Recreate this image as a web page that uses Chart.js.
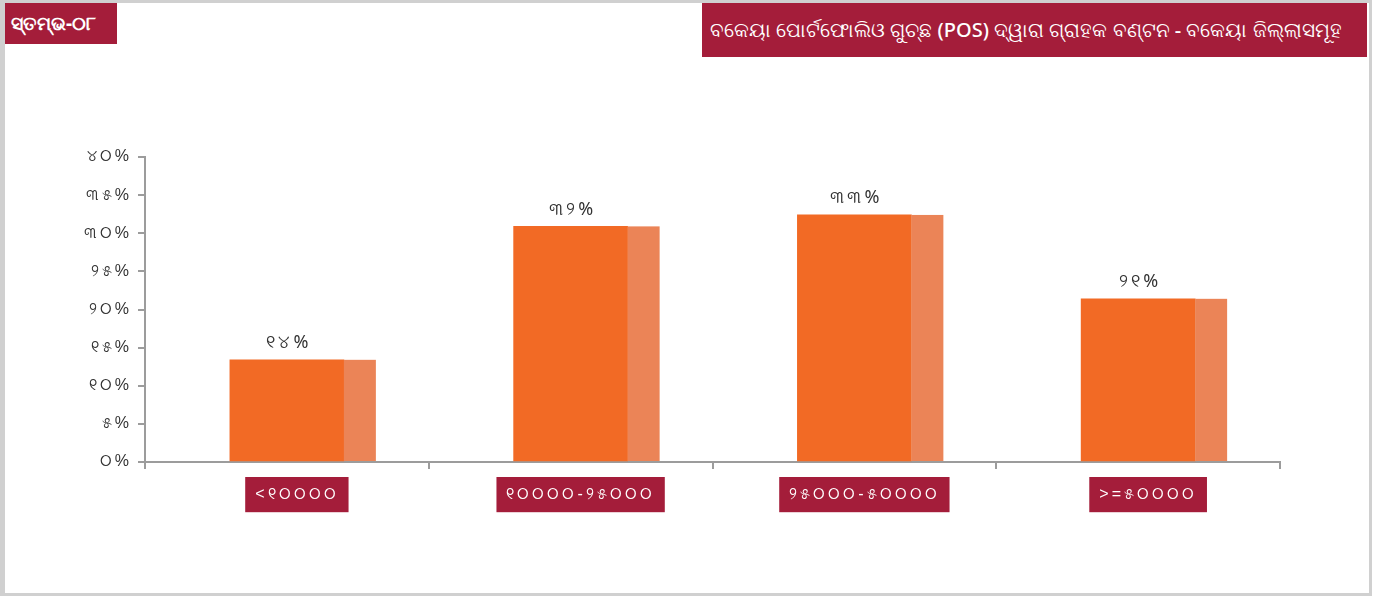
<!DOCTYPE html>
<html>
<head>
<meta charset="utf-8">
<script src="https://cdn.jsdelivr.net/npm/chart.js@4.4.1/dist/chart.umd.min.js"></script>
<style>
  html, body { margin: 0; padding: 0; background: #fff; }
  body { width: 1377px; height: 596px; position: relative; overflow: hidden; font-family: "Noto Sans", "DejaVu Sans", sans-serif; }
  #frame { position: absolute; left: 0; top: 0; width: 1364px; height: 590px; border: 3px solid #d0d0d0; border-left-width: 5px; }
  #fig { position: absolute; left: 5px; top: 3px; width: 112px; height: 41px; background: #a41d3a; color: #fff; font-size: 19px; font-weight: bold; line-height: 41px; padding-left: 6px; box-sizing: border-box; }
  #title { position: absolute; left: 702px; top: 3px; width: 665px; height: 54px; background: #a41d3a; color: #fff; font-size: 20px; font-weight: 500; line-height: 54px; padding-left: 8px; box-sizing: border-box; white-space: nowrap; }
  #chart { position: absolute; left: 0; top: 0; }
</style>
</head>
<body>
<div id="frame"></div>
<div id="fig">ସ୍ତମ୍ଭ-୦୮</div>
<div id="title">ବକେୟା ପୋର୍ଟଫୋଲିଓ ଗୁଚ୍ଛ (POS) ଦ୍ୱାରା ଗ୍ରାହକ ବଣ୍ଟନ - ବକେୟା ଜିଲ୍ଲାସମୂହ</div>
<canvas id="chart" width="1377" height="596"></canvas>
<script>
const categories = ["<୧୦୦୦୦", "୧୦୦୦୦-୨୫୦୦୦", "୨୫୦୦୦-୫୦୦୦୦", ">=୫୦୦୦୦"];
const shareValues = [13.4, 30.9, 32.4, 21.4];
const shareLabels = ["୧୪%", "୩୨%", "୩୩%", "୨୧%"];
const yTickLabels = ["୦%", "୫%", "୧୦%", "୧୫%", "୨୦%", "୨୫%", "୩୦%", "୩୫%", "୪୦%"];

const DARK = "#f26a25";
const LIGHT = "#eb8457";
const AXIS = "#9c9c9c";

// the reference text is set loosely, so widen the canvas letter spacing
const spacing = {
  id: "spacing",
  beforeLayout(chart) { chart.ctx.letterSpacing = "3px"; },
  beforeDraw(chart) { chart.ctx.letterSpacing = "3px"; },
};

// light right-hand strip + value labels on each bar
const barExtras = {
  id: "barExtras",
  afterDatasetsDraw(chart) {
    const ctx = chart.ctx;
    const meta = chart.getDatasetMeta(0);
    ctx.save();
    meta.data.forEach((bar, i) => {
      const right = bar.x + bar.width / 2;
      ctx.fillStyle = LIGHT;
      ctx.fillRect(right, bar.y, 32, bar.base - bar.y);
      ctx.fillStyle = "#333";
      ctx.font = "18px 'Noto Sans', 'DejaVu Sans', sans-serif";
      ctx.textAlign = "center";
      ctx.textBaseline = "bottom";
      ctx.fillText(shareLabels[i], bar.x + 2, bar.y - 8);
    });
    ctx.restore();
  },
};

new Chart(document.getElementById("chart").getContext("2d"), {
  type: "bar",
  data: {
    labels: categories,
    datasets: [
      {
        data: shareValues,
        backgroundColor: DARK,
        barThickness: 114,
      },
    ],
  },
  options: {
    responsive: false,
    animation: false,
    devicePixelRatio: 1,
    layout: { padding: { left: 60, right: 97, top: 157, bottom: 74 } },
    plugins: { legend: { display: false }, tooltip: { enabled: false } },
    scales: {
      x: {
        z: 1,
        afterFit: (s) => { s.height = 60; },
        grid: { drawOnChartArea: false, color: AXIS, lineWidth: 2, tickLength: 7, offset: true },
        border: { color: AXIS, width: 2 },
        ticks: {
          color: "#fff",
          font: { size: 16 },
          padding: 16,
          labelOffset: 10,
          showLabelBackdrop: true,
          backdropColor: "#a41d3a",
          backdropPadding: { top: 8, bottom: 8, left: 10, right: 10 },
        },
      },
      y: {
        z: 1,
        min: 0,
        max: 40,
        afterFit: (s) => { s.width = 85; },
        grid: { drawOnChartArea: false, color: AXIS, lineWidth: 2, tickLength: 7 },
        border: { color: AXIS, width: 2 },
        ticks: {
          stepSize: 5,
          color: "#333",
          font: { size: 16 },
          padding: 6,
          callback: (v) => yTickLabels[Math.round(v / 5)],
        },
      },
    },
  },
  plugins: [spacing, barExtras],
});
</script>
</body>
</html>
